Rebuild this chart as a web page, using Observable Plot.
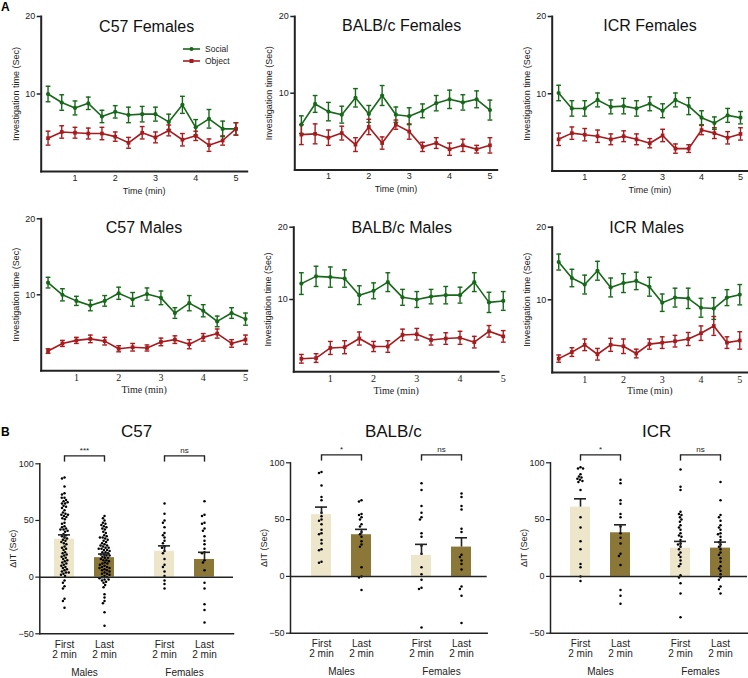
<!DOCTYPE html>
<html><head><meta charset="utf-8">
<script src="https://cdn.jsdelivr.net/npm/d3@7"></script>
<script src="https://cdn.jsdelivr.net/npm/@observablehq/plot@0.6"></script>
<style>
body{margin:0;background:#fff;}
#root{position:relative;width:748px;height:678px;overflow:hidden;font-family:"Liberation Sans",Arial,sans-serif;}
.panel{position:absolute;}
.panel svg{overflow:visible;}
.title{position:absolute;transform:translate(-50%,-50%);font-size:16px;white-space:nowrap;color:#111;}
.tag{position:absolute;font-weight:bold;font-size:12px;color:#000;}
.legend{position:absolute;font-family:"Liberation Sans Narrow","Liberation Sans",Arial,sans-serif;font-size:8.5px;color:#222;}
.legend div{display:flex;align-items:center;height:12px;}
.legend svg{margin-right:4px;}
</style></head><body><div id="root"></div>
<script>
// ---------- DATA ----------
const times = [0.33, 0.67, 1, 1.33, 1.67, 2, 2.33, 2.67, 3, 3.33, 3.67, 4, 4.33, 4.67, 5];
const timeTicks = [1, 2, 3, 4, 5];
const yTicksLine = [10, 20];

const c57F_social    = [10.0, 8.9, 8.2, 8.8, 7.1, 7.7, 7.3, 7.4, 7.4, 6.4, 8.6, 5.7, 6.8, 5.5, 5.5];
const c57F_socialSem = [1.0, 1.0, 0.9, 0.8, 0.8, 0.8, 1.0, 1.0, 0.9, 1.0, 1.1, 1.0, 1.2, 1.0, 0.8];
const c57F_object    = [4.3, 5.1, 5.0, 4.9, 4.9, 4.5, 3.7, 5.0, 4.4, 5.3, 4.1, 4.6, 3.4, 4.0, 5.5];
const c57F_objectSem = [0.9, 0.8, 0.7, 0.7, 0.8, 0.6, 0.7, 0.8, 0.7, 0.7, 0.8, 0.6, 0.8, 0.6, 0.8];

const balbF_social    = [5.9, 8.6, 7.6, 7.2, 9.4, 7.3, 9.7, 7.2, 7.0, 7.7, 8.7, 9.2, 8.8, 9.2, 7.8];
const balbF_socialSem = [1.15, 1.1, 1.2, 1.1, 1.2, 1.1, 1.3, 1.0, 1.1, 0.9, 1.0, 1.2, 1.0, 1.1, 1.3];
const balbF_object    = [4.6, 4.7, 4.2, 4.8, 3.3, 5.6, 3.5, 5.9, 5.0, 3.0, 3.5, 2.7, 3.2, 2.7, 3.2];
const balbF_objectSem = [1.3, 1.3, 1.0, 0.9, 0.9, 1.0, 0.8, 0.6, 1.0, 0.6, 0.7, 0.8, 0.8, 0.5, 1.0];

const icrF_social    = [10.1, 8.1, 8.1, 9.2, 8.3, 8.4, 8.1, 8.7, 7.8, 9.2, 8.4, 6.9, 6.2, 7.2, 6.9];
const icrF_socialSem = [1.0, 1.0, 1.0, 0.9, 0.9, 1.0, 1.0, 0.9, 0.9, 0.9, 1.1, 0.9, 0.8, 0.9, 0.8];
const icrF_object    = [4.1, 4.9, 4.7, 4.5, 4.1, 4.5, 4.1, 3.6, 4.6, 2.9, 2.9, 5.3, 4.9, 4.3, 4.8];
const icrF_objectSem = [0.8, 0.8, 0.8, 0.8, 0.7, 0.7, 0.7, 0.6, 0.8, 0.6, 0.5, 0.6, 0.7, 0.8, 0.8];

const c57M_social    = [11.6, 10.0, 9.2, 8.6, 9.2, 10.2, 9.4, 10.1, 9.6, 7.6, 8.9, 7.9, 6.5, 7.6, 6.8];
const c57M_socialSem = [0.7, 0.8, 0.6, 0.7, 0.7, 0.8, 0.9, 0.8, 0.9, 0.7, 1.0, 0.8, 0.7, 0.7, 0.8];
const c57M_object    = [2.6, 3.6, 4.0, 4.2, 3.9, 2.9, 3.1, 3.0, 3.8, 4.1, 3.5, 4.4, 4.9, 3.6, 4.1];
const c57M_objectSem = [0.3, 0.4, 0.4, 0.5, 0.5, 0.4, 0.5, 0.4, 0.5, 0.5, 0.6, 0.5, 0.6, 0.5, 0.6];

const balbM_social    = [12.2, 13.2, 13.1, 12.9, 10.6, 11.2, 12.4, 10.3, 10.0, 10.4, 10.6, 10.6, 12.4, 9.6, 9.8];
const balbM_socialSem = [1.5, 1.4, 1.4, 1.2, 1.3, 1.1, 1.3, 1.1, 1.1, 1.0, 1.2, 1.1, 1.3, 1.4, 1.3];
const balbM_object    = [1.8, 1.9, 3.3, 3.4, 4.6, 3.5, 3.5, 5.1, 5.2, 4.4, 4.6, 4.7, 4.1, 5.6, 4.9];
const balbM_objectSem = [0.6, 0.6, 0.9, 0.9, 0.9, 0.7, 0.8, 0.8, 0.8, 0.7, 0.8, 0.9, 0.8, 0.8, 0.8];

const icrM_social    = [15.2, 13.0, 12.1, 14.0, 11.7, 12.3, 12.6, 11.8, 9.6, 10.3, 10.2, 8.9, 8.8, 10.3, 10.7];
const icrM_socialSem = [1.1, 1.2, 1.3, 1.3, 1.3, 1.3, 1.2, 1.3, 1.2, 1.3, 1.4, 1.3, 1.5, 1.1, 1.4];
const icrM_object    = [1.9, 2.8, 3.8, 2.5, 3.8, 3.6, 2.6, 3.9, 4.1, 4.3, 4.6, 5.4, 6.4, 4.1, 4.4];
const icrM_objectSem = [0.5, 0.6, 0.8, 0.8, 0.9, 1.0, 0.6, 0.7, 0.8, 0.8, 0.9, 1.0, 1.3, 0.8, 1.2];

// Panel B: groups, bar means / SEM, individual points
const slots = ["M-First", "M-mid", "M-Last", "gap-1", "gap-2", "F-First", "F-mid", "F-Last"];
const barGroups = ["M-First", "M-Last", "F-First", "F-Last"];
const groupLabels = ["Males", "Females"];
const yTicksBar = [-50, 0, 50, 100];

const c57_means = [33.5, 17.2, 22.8, 15.6];
const c57_sems  = [3.8, 3.2, 4.8, 6.3];
const balb_means = [54.3, 36.7, 18.5, 25.8];
const balb_sems  = [6.7, 4.7, 9.7, 8.2];
const icr_means = [61.0, 38.4, 24.9, 24.9];
const icr_sems  = [7.3, 7.0, 5.9, 5.3];

const c57_sig = ["***", "ns"];
const balb_sig = ["*", "ns"];
const icr_sig = ["*", "ns"];
const bracketTop = 107, bracketFoot = 101.5;

const c57_MF = [88, 87, 80, 74, 73, 70, 70, 68, 67, 66, 65, 65, 63, 62, 61, 59, 57, 56, 55, 55, 54, 53, 52, 51, 48, 47, 45, 44, 43, 42, 42, 41, 40, 38, 37, 36, 35, 34, 33, 32, 31, 30, 29, 27, 26, 25, 24, 22, 21, 20, 19, 18, 17, 16, 15, 14, 13, 12, 11, 10, 9, 8, 7, 6, 5, 4, 4, 3, 2, 1, -3, -5, -8, -10, -19, -21, -27];
const c57_ML = [54, 52, 50, 48, 47, 46, 45, 44, 43, 42, 40, 39, 37, 36, 35, 35, 34, 33, 32, 31, 30, 29, 28, 28, 27, 26, 26, 25, 25, 24, 24, 23, 22, 22, 21, 20, 20, 19, 19, 18, 17, 17, 16, 15, 15, 14, 13, 12, 12, 11, 10, 9, 9, 8, 8, 7, 6, 6, 5, 4, 3, 3, 2, 1, 0, 0, -1, -2, -2, -3, -4, -5, -7, -9, -15, -18, -21, -23, -31, -43];
const c57_FF = [65, 56, 50, 48, 44, 39, 37, 35, 32, 30, 27, 26, 23, 21, 16, 11, 9, 5, 1, -3, -6, -10];
const c57_FL = [67, 55, 54, 48, 47, 43, 41, 36, 32, 29, 25, 22, 21, 15, 13, 6, -5, -10, -24, -29, -40];

const balb_MF = [92, 91, 80, 70, 67, 56, 53, 50, 49, 46, 41, 38, 37, 32, 29, 24, 23, 13, 12];
const balb_ML = [67, 66, 55, 54, 52, 50, 46, 44, 39, 37, 35, 31, 28, 26, 8, 0, -1, -12];
const balb_FF = [82, 76, 62, 56, 52, 50, 38, 35, 27, 20, 8, 2, -3, -10, -11, -45];
const balb_FL = [73, 70, 62, 59, 42, 39, 19, 17, 14, 11, 6, -9, -11, -17, -41];

const icr_MF = [96, 95, 95, 90, 88, 87, 86, 85, 84, 83, 76, 52, 43, 31, 24, 11, 8, 0, -4];
const icr_ML = [85, 82, 67, 64, 55, 52, 44, 38, 34, 29, 20, 18, 10, -12, -17, -24];
const icr_FF = [94, 79, 76, 57, 55, 54, 52, 50, 48, 45, 43, 41, 38, 36, 35, 32, 29, 28, 26, 24, 21, 19, 17, 14, 11, 9, 1, -1, -6, -15, -36];
const icr_FL = [83, 67, 54, 52, 49, 45, 43, 41, 38, 37, 35, 32, 30, 28, 26, 24, 21, 19, 16, 13, 9, 7, 5, 2, -1, -3, -9, -11, -15];

// ---------- STYLE ----------
const GREEN = "#17681a", RED = "#a61b1e", LIGHT = "#eee6cb", DARK = "#8b7737";
const NARROW = '"Liberation Sans Narrow","Liberation Sans",Arial,sans-serif';
const SERIF = '"Liberation Serif","Times New Roman",serif';
const root = document.getElementById("root");

function place(node, left, top) {
  const d = document.createElement("div");
  d.className = "panel"; d.style.left = left + "px"; d.style.top = top + "px";
  d.appendChild(node); root.appendChild(d);
}
function label(cls, text, x, y, extra) {
  const d = document.createElement("div");
  d.className = cls; d.textContent = text;
  d.style.left = x + "px"; d.style.top = y + "px";
  if (extra) Object.assign(d.style, extra);
  root.appendChild(d);
}

// horizontal cap symbol for error bars
const capSymbol = {draw(ctx, size) { const w = Math.sqrt(size / Math.PI); ctx.moveTo(-w, 0); ctx.lineTo(w, 0); }};

function linePanel(c) {
  const rows = (vals, sem, kind) => times.map((t, i) => ({t, v: vals[i], e: sem[i], kind}));
  const soc = rows(c.social, c.socialSem, "Social");
  const obj = rows(c.object, c.objectSem, "Object");
  const all = soc.concat(obj);
  return Plot.plot({
    width: c.w, height: c.h,
    marginLeft: c.mL, marginRight: c.mR, marginTop: c.mT, marginBottom: c.mB,
    style: {fontFamily: NARROW, fontSize: "9px", background: "transparent", color: "#222"},
    x: {domain: c.xd},
    y: {domain: [0, 20]},
    color: {domain: ["Social", "Object"], range: [GREEN, RED]},
    marks: [
      Plot.axisY(yTicksLine, {tickSize: 4, tickPadding: 2, strokeWidth: 1.5, label: "Investigation time (Sec)", labelAnchor: "center", labelArrow: "none", labelOffset: 29}),
      Plot.axisX(timeTicks, {tickSize: 0, tickPadding: 3, fontFamily: c.xfont, fontSize: c.xfs, label: "Time (min)", labelAnchor: "center", labelArrow: "none", labelOffset: 22}),
      Plot.frame({anchor: "left", strokeWidth: 2}),
      Plot.frame({anchor: "bottom", strokeWidth: 2}),
      Plot.ruleX(all, {x: "t", y1: d => d.v - d.e, y2: d => d.v + d.e, stroke: "kind", strokeWidth: 1.4}),
      Plot.dot(all, {x: "t", y: d => d.v + d.e, symbol: capSymbol, r: 2.4, stroke: "kind", strokeWidth: 1.4}),
      Plot.dot(all, {x: "t", y: d => d.v - d.e, symbol: capSymbol, r: 2.4, stroke: "kind", strokeWidth: 1.4}),
      Plot.line(all, {x: "t", y: "v", z: "kind", stroke: "kind", strokeWidth: 1.6}),
      Plot.dot(soc, {x: "t", y: "v", r: 2.1, fill: GREEN, symbol: "circle"}),
      Plot.dot(obj, {x: "t", y: "v", r: 2.1, fill: RED, symbol: "square"})
    ]
  });
}

// beeswarm of individual animals, dodged by Plot and centred on its bar's band
function swarm(values, slot) {
  return Plot.dot(values, Plot.initializer(
    Plot.dodgeX({anchor: "middle", padding: 0.25}, {y: d => d, r: 1.25, fill: "#000"}),
    function (data, facets, channels, scales, dims) {
      const mid = (dims.marginLeft + dims.width - dims.marginRight) / 2;
      const c = scales.x(slot);
      return {data, facets, channels: {x: {value: Float64Array.from(channels.x.value, v => v - mid + c)}}};
    }));
}

function barPanel(c) {
  const bars = barGroups.map((g, i) => ({g, mean: c.means[i], sem: c.sems[i], period: g.endsWith("First") ? "First" : "Last"}));
  const brackets = [
    {from: "M-First", to: "M-Last", mid: "M-mid", text: c.sig[0]},
    {from: "F-First", to: "F-Last", mid: "F-mid", text: c.sig[1]}
  ];
  return Plot.plot({
    width: c.w, height: c.h,
    marginLeft: c.mL, marginRight: c.mR, marginTop: c.mT, marginBottom: c.mB,
    style: {fontFamily: NARROW, fontSize: "9px", background: "transparent", color: "#222"},
    x: {type: "band", domain: slots, paddingInner: 0, paddingOuter: c.po, align: c.align},
    y: {domain: [-50, 100]},
    color: {domain: ["First", "Last"], range: [LIGHT, DARK]},
    marks: [
      Plot.barY(bars, {x: "g", y: "mean", fill: "period"}),
      ...c.points.map((vals, i) => swarm(vals, barGroups[i])),
      Plot.ruleY([0], {strokeWidth: 1.5}),
      Plot.frame({anchor: "left", strokeWidth: 1.5}),
      Plot.frame({anchor: "bottom", strokeWidth: 1.5}),
      Plot.axisY(yTicksBar, {tickSize: 4, tickPadding: 2, strokeWidth: 1.2, label: "ΔIT (Sec)", labelAnchor: "center", labelArrow: "none", labelOffset: 30}),
      Plot.axisX(barGroups, {tickSize: 0, tickPadding: 7, fontSize: 10, tickFormat: g => g.endsWith("First") ? "First\n2 min" : "Last\n2 min", label: null}),
      Plot.axisX(["M-mid", "F-mid"], {tickSize: 0, tickPadding: 35, fontSize: 10, tickFormat: g => g === "M-mid" ? groupLabels[0] : groupLabels[1], label: null}),
      Plot.ruleX(bars, {x: "g", y1: "mean", y2: d => d.mean + d.sem, strokeWidth: 1.6}),
      Plot.tickY(bars, {x: "g", y: d => d.mean + d.sem, strokeWidth: 1.6, insetLeft: 4, insetRight: 4}),
      Plot.link(brackets, {x1: "from", x2: "to", y1: bracketTop, y2: bracketTop, strokeWidth: 1.4}),
      Plot.ruleX(barGroups, {x: d => d, y1: bracketFoot, y2: bracketTop, strokeWidth: 1.4}),
      Plot.text(brackets, {x: "mid", y: bracketTop, text: "text", dy: -3, lineAnchor: "bottom", fontSize: 8})
    ]
  });
}

// ---------- PANEL A ----------
const lineCfg = [
  {left: 0,   top: 0,   w: 250, h: 200, mL: 40.7, mR: 3.3, mT: 16,   mB: 29,   xd: [0.16, 5.28], social: c57F_social, socialSem: c57F_socialSem, object: c57F_object, objectSem: c57F_objectSem, xfont: NARROW, xfs: 9, title: "C57 Females", tx: 146.7, ty: 26.7},
  {left: 250, top: 0,   w: 250, h: 200, mL: 44.3, mR: 3.3, mT: 16,   mB: 30.6, xd: [0.167, 5.18], social: balbF_social, socialSem: balbF_socialSem, object: balbF_object, objectSem: balbF_objectSem, xfont: NARROW, xfs: 9, title: "BALB/c Females", tx: 401.7, ty: 26},
  {left: 500, top: 0,   w: 248, h: 200, mL: 51.7, mR: 1,   mT: 16,   mB: 29.5, xd: [0.165, 5.18], social: icrF_social, socialSem: icrF_socialSem, object: icrF_object, objectSem: icrF_objectSem, xfont: NARROW, xfs: 9, title: "ICR Females", tx: 650, ty: 26},
  {left: 0,   top: 200, w: 250, h: 200, mL: 40.7, mR: 3.3, mT: 18.3, mB: 29.7, xd: [0.168, 5.04], social: c57M_social, socialSem: c57M_socialSem, object: c57M_object, objectSem: c57M_objectSem, xfont: SERIF, xfs: 10, title: "C57 Males", tx: 144, ty: 228},
  {left: 250, top: 200, w: 250, h: 200, mL: 43.3, mR: 2,   mT: 26.7, mB: 28.7, xd: [0.155, 4.89], social: balbM_social, socialSem: balbM_socialSem, object: balbM_object, objectSem: balbM_objectSem, xfont: SERIF, xfs: 10, title: "BALB/c Males", tx: 401.7, ty: 228.3},
  {left: 500, top: 200, w: 248, h: 200, mL: 51.7, mR: 1,   mT: 26.7, mB: 28.1, xd: [0.162, 5.2], social: icrM_social, socialSem: icrM_socialSem, object: icrM_object, objectSem: icrM_objectSem, xfont: SERIF, xfs: 10, title: "ICR Males", tx: 646.7, ty: 228}
];
for (const c of lineCfg) place(linePanel(c), c.left, c.top);

// ---------- PANEL B ----------
const barCfg = [
  {left: 0,   top: 438, w: 250, h: 226, mL: 39.3, mR: 17,   mT: 25.3, mB: 30.7, po: 0.65, align: 0.44, means: c57_means, sems: c57_sems, sig: c57_sig, points: [c57_MF, c57_ML, c57_FF, c57_FL], title: "C57", tx: 136.7},
  {left: 250, top: 438, w: 250, h: 226, mL: 40,   mR: 13.3, mT: 24.3, mB: 31.3, po: 0.75, align: 0.57, means: balb_means, sems: balb_sems, sig: balb_sig, points: [balb_MF, balb_ML, balb_FF, balb_FL], title: "BALB/c", tx: 393.3},
  {left: 500, top: 438, w: 248, h: 226, mL: 50,   mR: 1,    mT: 24.3, mB: 31.3, po: 0.8,  align: 0.54, means: icr_means, sems: icr_sems, sig: icr_sig, points: [icr_MF, icr_ML, icr_FF, icr_FL], title: "ICR", tx: 656.7}
];
for (const c of barCfg) place(barPanel(c), c.left, c.top);

// titles & tags
for (const c of lineCfg) label("title", c.title, c.tx, c.ty);
for (const c of barCfg) label("title", c.title, c.tx, 431.7, {fontSize: "17px"});
label("tag", "A", 1, 0);
label("tag", "B", 1, 425);

// legend (panel A, C57 Females)
const leg = document.createElement("div");
leg.className = "legend"; leg.style.left = "182px"; leg.style.top = "43px";
leg.innerHTML =
  `<div><svg width="19" height="8"><line x1="1" x2="18" y1="4" y2="4" stroke="${GREEN}" stroke-width="1.6"/><circle cx="9.5" cy="4" r="2.1" fill="${GREEN}"/></svg>Social</div>` +
  `<div><svg width="19" height="8"><line x1="1" x2="18" y1="4" y2="4" stroke="${RED}" stroke-width="1.6"/><rect x="7.5" y="2" width="4" height="4" fill="${RED}"/></svg>Object</div>`;
root.appendChild(leg);
</script></body></html>
